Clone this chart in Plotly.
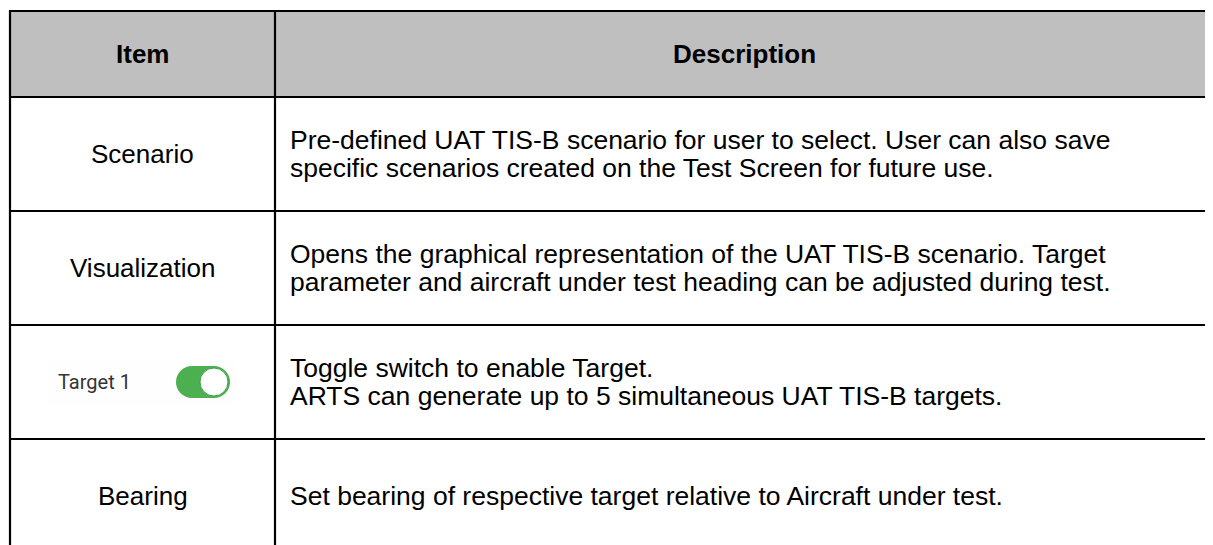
import plotly.graph_objects as go

# ---- data ----
headers = ["Item", "Description"]
items = ["Scenario", "Visualization", "", "Bearing"]
toggle_label = "Target 1"
descriptions = [
    ["Pre-defined UAT TIS-B scenario for user to select. User can also save",
     "specific scenarios created on the Test Screen for future use."],
    ["Opens the graphical representation of the UAT TIS-B scenario. Target",
     "parameter and aircraft under test heading can be adjusted during test."],
    ["Toggle switch to enable Target.",
     "ARTS can generate up to 5 simultaneous UAT TIS-B targets."],
    ["Set bearing of respective target relative to Aircraft under test."],
]

# ---- geometry / style (page pixel coordinates) ----
W, H = 1213, 545
OFF = 8  # default body margin of the html page
x_left, x_div, x_right = 10, 275, 1213
y_top, y_head = 11, 97
row_h = 114
line_gap = 28
fs = 26
fs_desc = 26.5
font = "Liberation Sans, Arial, sans-serif"
lw = 2.2

fig = go.Figure()
shapes = []
ann = []

# header fill
shapes.append(dict(type="rect", x0=x_left, x1=x_right + 5, y0=y_top, y1=y_head,
                   fillcolor="#bfbfbf", line=dict(width=0), layer="below"))

n = len(items)
row_tops = [y_head + i * row_h for i in range(n)]
bottom = H + 10

# horizontal lines
for yy in [y_top, y_head] + row_tops[1:]:
    shapes.append(dict(type="line", x0=x_left - 1, x1=x_right + 5, y0=yy, y1=yy,
                       line=dict(color="black", width=lw)))
# vertical lines
for xx in [x_left, x_div]:
    shapes.append(dict(type="line", x0=xx, x1=xx, y0=y_top - 1, y1=bottom,
                       line=dict(color="black", width=lw)))

# header text
for txt, xc in zip(headers, [(x_left + x_div) / 2, (x_div + x_right) / 2]):
    ann.append(dict(x=xc, y=(y_top + y_head) / 2, text="<b>%s</b>" % txt,
                    showarrow=False, xanchor="center", yanchor="middle",
                    font=dict(family=font, size=fs, color="black")))

for i, (item, desc) in enumerate(zip(items, descriptions)):
    yc = row_tops[i] + row_h / 2
    if item:
        ann.append(dict(x=(x_left + x_div) / 2, y=yc, text=item, showarrow=False,
                        xanchor="center", yanchor="middle",
                        font=dict(family=font, size=fs, color="black")))
    else:
        # very faint screenshot background behind the toggle
        shapes.append(dict(type="rect", x0=48, x1=233, y0=yc - 23, y1=yc + 23,
                           fillcolor="#fefefe", line=dict(width=0), layer="below"))
        ann.append(dict(x=56, y=yc, text=toggle_label, showarrow=False,
                        xanchor="left", yanchor="middle",
                        font=dict(family="Roboto, sans-serif", size=20, color="#333333")))
        cx0, cx1, r = 192, 214, 16
        green = "#4caf50"
        shapes.append(dict(type="circle", x0=cx0 - r, x1=cx0 + r, y0=yc - r, y1=yc + r,
                           fillcolor=green, line=dict(width=0)))
        shapes.append(dict(type="circle", x0=cx1 - r, x1=cx1 + r, y0=yc - r, y1=yc + r,
                           fillcolor=green, line=dict(width=0)))
        shapes.append(dict(type="rect", x0=cx0, x1=cx1, y0=yc - r, y1=yc + r,
                           fillcolor=green, line=dict(width=0)))
        kr = 14
        shapes.append(dict(type="circle", x0=cx1 - kr, x1=cx1 + kr, y0=yc - kr, y1=yc + kr,
                           fillcolor="white", line=dict(width=1, color="#3f9f45")))
    k = len(desc)
    for j, line in enumerate(desc):
        yy = yc + (j - (k - 1) / 2) * line_gap
        ann.append(dict(x=x_div + 13, y=yy, text=line, showarrow=False,
                        xanchor="left", yanchor="middle",
                        font=dict(family=font, size=fs_desc, color="black")))

fig.update_layout(
    width=W - OFF, height=H - OFF, margin=dict(l=0, r=0, t=0, b=0),
    paper_bgcolor="white", plot_bgcolor="white",
    xaxis=dict(range=[OFF, W], visible=False, fixedrange=True),
    yaxis=dict(range=[H, OFF], visible=False, fixedrange=True),
    shapes=shapes, annotations=ann, showlegend=False,
)
fig.write_html("out.html", config={"displayModeBar": False})
